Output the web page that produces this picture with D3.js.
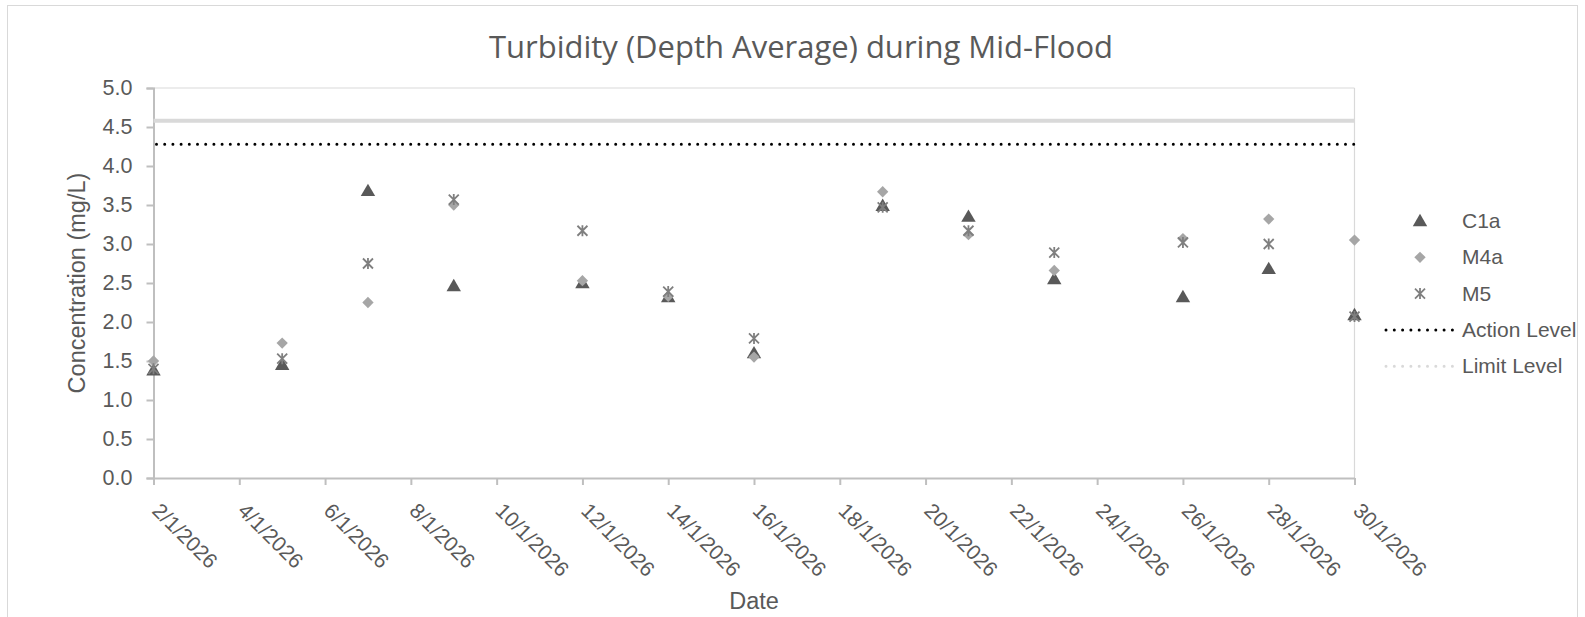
<!DOCTYPE html>
<html>
<head>
<meta charset="utf-8">
<script src="https://cdn.jsdelivr.net/npm/d3@7"></script>
<style>
html,body{margin:0;padding:0;background:#fff;}
svg{display:block;}
</style>
</head>
<body>
<svg id="chart" width="1585" height="617"></svg>
<script>
const dates = ["2026-01-02","2026-01-05","2026-01-07","2026-01-09","2026-01-12","2026-01-14","2026-01-16","2026-01-19","2026-01-21","2026-01-23","2026-01-26","2026-01-28","2026-01-30"];
const c1a = [1.38,1.45,3.68,2.46,2.50,2.32,1.60,3.49,3.35,2.55,2.32,2.68,2.09];
const m4a = [1.50,1.73,2.25,3.50,2.53,2.33,1.55,3.67,3.12,2.66,3.07,3.32,3.05];
const m5  = [1.40,1.53,2.75,3.57,3.17,2.39,1.79,3.47,3.17,2.89,3.02,3.00,2.07];
const actionLevel = 4.28;
const limitLevel = 4.58;
const yTicks = [0,0.5,1.0,1.5,2.0,2.5,3.0,3.5,4.0,4.5,5.0];
const xTickLabels = ["2/1/2026","4/1/2026","6/1/2026","8/1/2026","10/1/2026","12/1/2026","14/1/2026","16/1/2026","18/1/2026","20/1/2026","22/1/2026","24/1/2026","26/1/2026","28/1/2026","30/1/2026"];
const xDomain = ["2026-01-02","2026-01-30"];
const seriesNames = ["C1a","M4a","M5"];
const lineNames = ["Action Level","Limit Level"];

const parse = d3.utcParse("%Y-%m-%d");
const parseLabel = d3.utcParse("%-d/%-m/%Y");
const svg = d3.select("#chart");
const m = {left:153.5, right:1354.5, top:88, bottom:478};
const txt = "#595959";
const axisFont = "'Liberation Sans', Arial, sans-serif";
const titleFont = "'Open Sans', 'Noto Sans', sans-serif";

// outer chart border
svg.append("rect").attr("x",7.5).attr("y",5.5).attr("width",1570).attr("height",640)
  .attr("fill","#fff").attr("stroke","#d9d9d9").attr("stroke-width",1);

const x = d3.scaleUtc().domain(xDomain.map(parse)).range([m.left, m.right]);
const y = d3.scaleLinear().domain([0,5]).range([m.bottom, m.top]);

// plot area border (top & right)
svg.append("line").attr("x1",m.left).attr("x2",m.right).attr("y1",m.top).attr("y2",m.top)
  .attr("stroke","#d9d9d9").attr("stroke-width",1.2);
svg.append("line").attr("x1",m.right).attr("x2",m.right).attr("y1",m.top).attr("y2",m.bottom)
  .attr("stroke","#d9d9d9").attr("stroke-width",1.2);

// title
svg.append("text").attr("x",801).attr("y",58)
  .attr("text-anchor","middle").attr("fill",txt)
  .style("font-family",titleFont).style("font-size","31px")
  .text("Turbidity (Depth Average) during Mid-Flood");

// y axis
const yAxis = d3.axisLeft(y).tickValues(yTicks).tickFormat(d3.format(".1f")).tickSize(7).tickPadding(14);
const gy = svg.append("g").attr("transform",`translate(${m.left},0)`).call(yAxis);
gy.select(".domain").attr("stroke","#bfbfbf").attr("stroke-width",2);
gy.selectAll(".tick line").attr("stroke","#bfbfbf").attr("stroke-width",2);
gy.selectAll(".tick text").attr("fill",txt).style("font-family",axisFont).style("font-size","21.5px");

// x axis
const xTicks = xTickLabels.map(parseLabel);
const xAxis = d3.axisBottom(x).tickValues(xTicks).tickFormat(d3.utcFormat("%-d/%-m/%Y")).tickSize(7).tickSizeOuter(0);
const gx = svg.append("g").attr("transform",`translate(0,${m.bottom})`).call(xAxis);
gx.select(".domain").attr("stroke","#bfbfbf").attr("stroke-width",2);
gx.selectAll(".tick line").attr("stroke","#bfbfbf").attr("stroke-width",2);
gx.selectAll(".tick text").attr("fill",txt).style("font-family",axisFont).style("font-size","21px")
  .attr("text-anchor","start").attr("dy",null).attr("y",0)
  .attr("transform","translate(-3,34) rotate(45)");

// axis titles
svg.append("text").attr("transform",`translate(85,${(m.top+m.bottom)/2}) rotate(-90)`)
  .attr("text-anchor","middle").attr("fill",txt)
  .style("font-family",axisFont).style("font-size","23.5px").text("Concentration (mg/L)");
svg.append("text").attr("x",(m.left+m.right)/2).attr("y",609)
  .attr("text-anchor","middle").attr("fill",txt)
  .style("font-family",axisFont).style("font-size","23.5px").text("Date");

// reference lines
svg.append("line").attr("x1",m.left).attr("x2",m.right).attr("y1",y(limitLevel)).attr("y2",y(limitLevel))
  .attr("stroke","#d9d9d9").attr("stroke-width",4);
svg.append("line").attr("x1",m.left+3).attr("x2",m.right).attr("y1",y(actionLevel)).attr("y2",y(actionLevel))
  .attr("stroke","#000").attr("stroke-width",3).attr("stroke-linecap","round").attr("stroke-dasharray","0 8.2");

// marker drawing
const triSym = d3.symbol().type(d3.symbolTriangle).size(90);
const diaSym = d3.symbol().type(d3.symbolSquare).size(64);
function drawTri(g, cx, cy){ g.append("path").attr("d",triSym()).attr("transform",`translate(${cx},${cy+1})`).attr("fill","#595959"); }
function drawDia(g, cx, cy){ g.append("path").attr("d",diaSym()).attr("transform",`translate(${cx},${cy}) rotate(45)`).attr("fill","#a6a6a6"); }
function drawStar(g, cx, cy){
  const s=5;
  const p = `M${cx-s},${cy-s}L${cx+s},${cy+s}M${cx-s},${cy+s}L${cx+s},${cy-s}M${cx},${cy-s-0.5}L${cx},${cy+s+0.5}`;
  g.append("path").attr("d",p).attr("stroke","#7f7f7f").attr("stroke-width",1.8).attr("fill","none");
}

const gp = svg.append("g");
dates.forEach((d,i)=>{ drawTri(gp, x(parse(d)), y(c1a[i])); });
dates.forEach((d,i)=>{ drawDia(gp, x(parse(d)), y(m4a[i])); });
dates.forEach((d,i)=>{ drawStar(gp, x(parse(d)), y(m5[i])); });

// legend
const lg = svg.append("g");
const lx = 1420, ltx = 1462, ly0 = 221, lstep = 36.3;
const drawers = [drawTri, drawDia, drawStar];
seriesNames.forEach((n,i)=>{
  drawers[i](lg, lx, ly0 + i*lstep);
  lg.append("text").attr("x",ltx).attr("y",ly0+i*lstep+7).attr("fill",txt)
    .style("font-family",axisFont).style("font-size","21px").text(n);
});
lineNames.forEach((n,j)=>{
  const yy = ly0 + (3+j)*lstep;
  lg.append("line").attr("x1",1386).attr("x2",1455).attr("y1",yy).attr("y2",yy)
    .attr("stroke", j===0 ? "#000" : "#d9d9d9").attr("stroke-width",3)
    .attr("stroke-linecap","round").attr("stroke-dasharray","0 8.3");
  lg.append("text").attr("x",ltx).attr("y",yy+7).attr("fill",txt)
    .style("font-family",axisFont).style("font-size","21px").text(n);
});
</script>
</body>
</html>
